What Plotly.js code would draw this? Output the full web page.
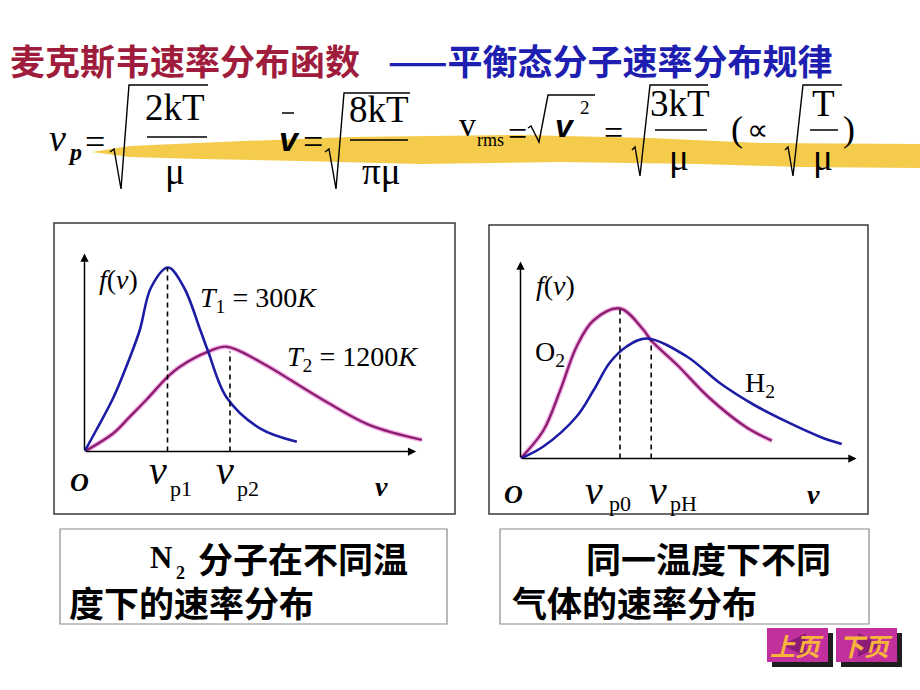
<!DOCTYPE html>
<html>
<head>
<meta charset="utf-8">
<script src="https://cdn.plot.ly/plotly-3.0.1.min.js"></script>
<style>
  body { margin: 0; background: #fff; }
  #chart { width: 920px; height: 690px; }
</style>
</head>
<body>
<div id="chart"></div>
<script>
// left panel: N2 at T1 = 300K and T2 = 1200K
const speedT1 = [0, 0.36, 0.86, 1.35, 1.65, 1.98, 2.49, 2.96, 3.44, 3.68, 4.23, 5.22, 6.32];
const densT1 = [0, 0.11, 0.27, 0.47, 0.61, 0.82, 0.92, 0.82, 0.61, 0.50, 0.27, 0.116, 0.049];
const speedT2 = [0, 0.86, 1.35, 1.85, 2.48, 2.84, 3.68, 4.23, 5.22, 6.98, 8.47, 10.04];
const densT2 = [0, 0.091, 0.174, 0.26, 0.374, 0.424, 0.499, 0.524, 0.449, 0.27, 0.133, 0.058];
const peakLeftV = [2.47, 4.33];
const peakLeftF = [0.92, 0.50];

// right panel: O2 and H2 at the same temperature
const speedO2 = [0, 0.68, 1.18, 1.67, 2.17, 2.96, 3.65, 3.89, 4.65, 5.64, 6.73, 7.48];
const densO2 = [0, 0.14, 0.34, 0.56, 0.69, 0.75, 0.645, 0.59, 0.47, 0.30, 0.155, 0.089];
const speedH2 = [0, 0.68, 1.67, 2.17, 2.66, 3.16, 3.76, 4.95, 5.94, 6.93, 7.92, 8.91, 9.56];
const densH2 = [0, 0.06, 0.21, 0.34, 0.48, 0.56, 0.60, 0.51, 0.376, 0.27, 0.184, 0.109, 0.072];
const peakRightV = [2.96, 3.89];
const peakRightF = [0.75, 0.59];

const W = 920, H = 690;
const px = x => x / W;
const py = y => 1 - y / H;

const BLUE = '#1c1ca4';
const PURPLE = '#8c1f6e';
const HALO = 'rgba(236,120,222,0.55)';
const SERIF = 'Liberation Serif, serif';
const CJK = 'Noto Sans CJK SC, sans-serif';

function curve(x, y, color, width, xa, ya) {
  return {
    type: 'scatter', mode: 'lines', x, y, xaxis: xa, yaxis: ya,
    line: { color, width, shape: 'spline', smoothing: 1 },
    hoverinfo: 'skip', showlegend: false,
  };
}

function dashes(vs, fs, xa, ya) {
  return vs.map((v, i) => ({
    type: 'scatter', mode: 'lines', x: [v, v], y: [0, fs[i]], xaxis: xa, yaxis: ya,
    line: { color: '#000', width: 1.6, dash: '5px,4px' },
    hoverinfo: 'skip', showlegend: false,
  }));
}

const data = [
  curve(speedT2, densT2, HALO, 5, 'x', 'y'),
  curve(speedT2, densT2, PURPLE, 2.4, 'x', 'y'),
  curve(speedT1, densT1, BLUE, 2.6, 'x', 'y'),
  ...dashes(peakLeftV, peakLeftF, 'x', 'y'),
  curve(speedO2, densO2, HALO, 5, 'x2', 'y2'),
  curve(speedO2, densO2, PURPLE, 2.4, 'x2', 'y2'),
  curve(speedH2, densH2, BLUE, 2.6, 'x2', 'y2'),
  ...dashes(peakRightV, peakRightF, 'x2', 'y2'),
];

function txt(x, y, text, size, extra = {}) {
  const { family = SERIF, color = '#000', ...rest } = extra;
  return {
    xref: 'paper', yref: 'paper', x: px(x), y: py(y), text, showarrow: false,
    font: { family, size, color }, xanchor: 'center', yanchor: 'middle', ...rest,
  };
}

function arrow(xa, ya, x, y) {
  return {
    xref: xa, yref: ya, axref: xa, ayref: ya, x, y, ax: 0, ay: 0, text: '',
    showarrow: true, arrowhead: 2, arrowsize: 1.1, arrowwidth: 1.5, arrowcolor: '#000',
  };
}

function path(pts, close) {
  return 'M ' + pts.map(p => px(p[0]) + ',' + py(p[1])).join(' L ') + (close ? ' Z' : '');
}

function line(x0, y0, x1, y1, color = '#000', width = 1.5) {
  return { type: 'line', xref: 'paper', yref: 'paper', x0: px(x0), y0: py(y0), x1: px(x1), y1: py(y1), line: { color, width } };
}

function rect(x0, y0, x1, y1, lineColor, fill, width = 1.5) {
  return {
    type: 'rect', xref: 'paper', yref: 'paper', x0: px(x0), y0: py(y0), x1: px(x1), y1: py(y1),
    line: { color: lineColor, width }, fillcolor: fill, layer: 'below',
  };
}

function radical(pts) {
  return { type: 'path', xref: 'paper', yref: 'paper', path: path(pts), line: { color: '#000', width: 1.4 } };
}

const shapes = [
  // yellow highlighter stroke under the formulas
  {
    type: 'path', xref: 'paper', yref: 'paper', layer: 'below',
    path: path([[92, 152], [130, 146], [220, 142], [350, 137], [520, 135], [650, 138], [760, 143], [920, 144],
      [920, 168], [800, 167], [700, 164], [560, 162], [420, 164], [300, 161], [200, 159], [130, 157]], true),
    fillcolor: 'rgba(242,194,44,0.85)', line: { width: 0 },
  },
  radical([[110, 152], [114, 149], [121, 189], [129, 85], [208, 85]]),
  line(147, 137, 207, 137),
  radical([[325, 152], [329, 149], [336, 189], [344, 93], [410, 93]]),
  line(350, 140, 408, 140),
  line(282, 113, 294, 113),
  radical([[528, 128], [531, 126], [539, 142], [548, 95], [595, 95]]),
  radical([[632, 150], [635, 147], [640, 176], [650, 85], [708, 85]]),
  line(655, 130, 707, 130),
  radical([[785, 150], [788, 147], [793, 176], [803, 85], [842, 85]]),
  line(810, 130, 838, 130),
  // panel frames
  rect(54, 223, 455, 514, '#3a3a3a', 'rgba(0,0,0,0)'),
  rect(489, 225, 868, 514, '#3a3a3a', 'rgba(0,0,0,0)'),
  rect(60, 529, 447, 624, '#8a8a8a', 'rgba(0,0,0,0)', 1.2),
  rect(500, 529, 869, 624, '#8a8a8a', 'rgba(0,0,0,0)', 1.2),
  // navigation buttons
  rect(772, 633, 833, 667, '#1e1e1e', '#1e1e1e', 0),
  rect(767, 628, 828, 662, '#c2309e', '#c2309e', 0),
  { type: 'path', xref: 'paper', yref: 'paper', layer: 'below', path: path([[782, 645], [806, 633], [806, 657]], true), fillcolor: '#8c1c78', line: { width: 0 } },
  rect(841, 633, 902, 667, '#1e1e1e', '#1e1e1e', 0),
  rect(836, 628, 897, 662, '#c2309e', '#c2309e', 0),
  { type: 'path', xref: 'paper', yref: 'paper', layer: 'below', path: path([[882, 645], [858, 633], [858, 657]], true), fillcolor: '#8c1c78', line: { width: 0 } },
];

const annotations = [
  // title
  txt(8, 59, '<b>麦克斯韦速率分布函数</b>', 35, { family: CJK, color: '#a01c3c', xanchor: 'left' }),
  txt(386, 59, '<b>——平衡态分子速率分布规律</b>', 35, { family: CJK, color: '#1e1eb0', xanchor: 'left' }),
  // formulas
  txt(57, 138, '<i>v</i>', 38),
  txt(75, 152, '<b><i>p</i></b>', 24),
  txt(95, 142, '=', 36),
  txt(175, 108, '2kT', 37),
  txt(175, 171, 'μ', 37),
  txt(289, 139, '<b><i>v</i></b>', 34, { family: 'Liberation Sans, sans-serif' }),
  txt(313, 142, '=', 36),
  txt(379, 109, '8kT', 37),
  txt(381, 171, 'πμ', 37),
  txt(467, 124, 'v', 34),
  txt(490, 140, 'rms', 18),
  txt(517, 133, '=', 34),
  txt(565, 126, '<b><i>v</i></b>', 32, { family: 'Liberation Sans, sans-serif' }),
  txt(585, 107, '2', 19),
  txt(613, 132, '=', 34),
  txt(680, 104, '3kT', 37),
  txt(679, 158, 'μ', 37),
  txt(737, 129, '(', 36),
  txt(757, 130, '∝', 30),
  txt(823, 104, 'T', 37),
  txt(823, 158, 'μ', 37),
  txt(849, 129, ')', 36),
  // left panel labels
  txt(118, 279, '<i>f</i>(<i>v</i>)', 28),
  txt(198, 300, '<i>T</i><sub>1</sub> = 300<i>K</i>', 28, { xanchor: 'left' }),
  txt(285, 359, '<i>T</i><sub>2</sub> = 1200<i>K</i>', 28, { xanchor: 'left' }),
  txt(79, 483, '<b><i>O</i></b>', 26),
  txt(158, 470, '<i>v</i>', 40),
  txt(181, 488, 'p1', 22),
  txt(225, 470, '<i>v</i>', 40),
  txt(248, 488, 'p2', 22),
  txt(381, 486, '<b><i>v</i></b>', 28),
  // right panel labels
  txt(555, 285, '<i>f</i>(<i>v</i>)', 28),
  txt(533, 353, 'O<sub>2</sub>', 28, { xanchor: 'left' }),
  txt(743, 384, 'H<sub>2</sub>', 28, { xanchor: 'left' }),
  txt(513, 494, '<b><i>O</i></b>', 26),
  txt(594, 490, '<i>v</i>', 40),
  txt(620, 503, 'p0', 22),
  txt(658, 490, '<i>v</i>', 40),
  txt(683, 503, 'pH', 22),
  txt(813, 494, '<b><i>v</i></b>', 28),
  // captions
  txt(148, 557, '<b>N</b>', 31, { xanchor: 'left' }),
  txt(174, 573, '<b>2</b>', 18, { xanchor: 'left' }),
  txt(196, 557, '<b>分子在不同温</b>', 35, { family: CJK, xanchor: 'left' }),
  txt(67, 601, '<b>度下的速率分布</b>', 35, { family: CJK, xanchor: 'left' }),
  txt(584, 557, '<b>同一温度下不同</b>', 35, { family: CJK, xanchor: 'left' }),
  txt(510, 601, '<b>气体的速率分布</b>', 35, { family: CJK, xanchor: 'left' }),
  // buttons
  txt(797, 645, '<b><i>上页</i></b>', 25, { family: CJK, color: '#f7b43a' }),
  txt(866, 645, '<b><i>下页</i></b>', 25, { family: CJK, color: '#f7b43a' }),
  // axis arrows
  arrow('x', 'y', 9.87, 0),
  arrow('x', 'y', 0, 0.99),
  arrow('x2', 'y2', 10.0, 0),
  arrow('x2', 'y2', 0, 0.985),
];

const hidden = { visible: false, fixedrange: true };

const layout = {
  width: W, height: H,
  margin: { l: 0, r: 0, t: 0, b: 0 },
  paper_bgcolor: '#fff', plot_bgcolor: 'rgba(0,0,0,0)',
  showlegend: false,
  xaxis: { ...hidden, domain: [px(84.5), px(440.7)], range: [0, 10.6], anchor: 'y' },
  yaxis: { ...hidden, domain: [py(451.5), py(231.5)], range: [0, 1.1], anchor: 'x' },
  xaxis2: { ...hidden, domain: [px(520.5), px(876.7)], range: [0, 10.6], anchor: 'y2' },
  yaxis2: { ...hidden, domain: [py(458.5), py(238.5)], range: [0, 1.1], anchor: 'x2' },
  shapes,
  annotations,
};

Plotly.newPlot('chart', data, layout, { displayModeBar: false, staticPlot: true });
</script>
</body>
</html>
